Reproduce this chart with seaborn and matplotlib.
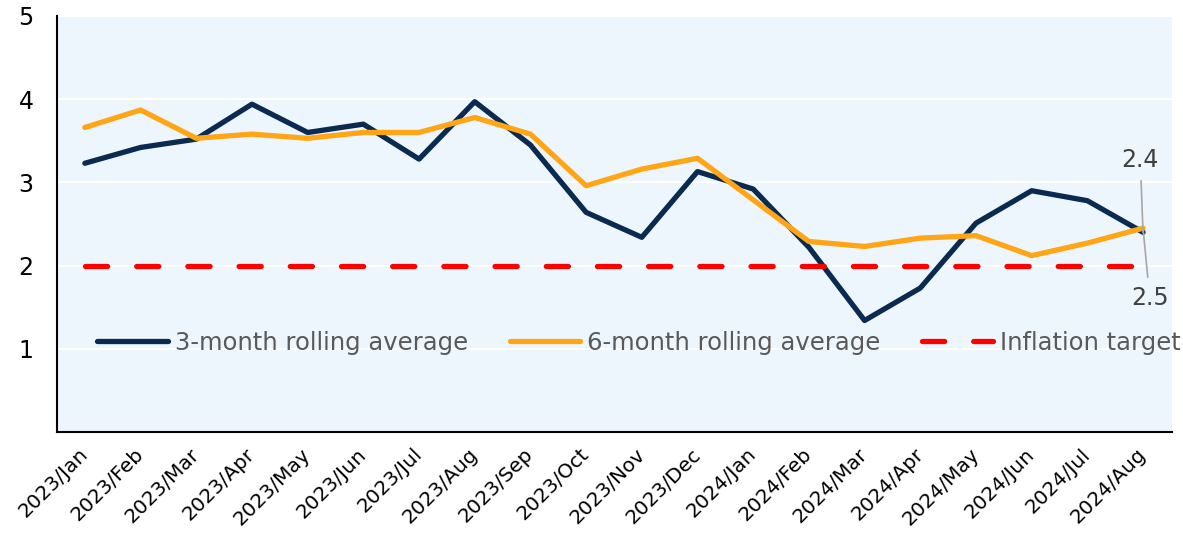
import pandas as pd
import matplotlib
matplotlib.use("Agg")
import matplotlib.pyplot as plt
import seaborn as sns

# values
months = ["2023/Jan", "2023/Feb", "2023/Mar", "2023/Apr", "2023/May", "2023/Jun",
          "2023/Jul", "2023/Aug", "2023/Sep", "2023/Oct", "2023/Nov", "2023/Dec",
          "2024/Jan", "2024/Feb", "2024/Mar", "2024/Apr", "2024/May", "2024/Jun",
          "2024/Jul", "2024/Aug"]
avg_3m = [3.23, 3.42, 3.52, 3.94, 3.60, 3.70, 3.28, 3.97, 3.45, 2.64,
          2.34, 3.13, 2.92, 2.22, 1.34, 1.73, 2.51, 2.90, 2.78, 2.40]
avg_6m = [3.66, 3.87, 3.53, 3.58, 3.53, 3.60, 3.60, 3.78, 3.58, 2.96,
          3.16, 3.29, 2.79, 2.29, 2.23, 2.33, 2.36, 2.12, 2.27, 2.45]
target = [2.0] * len(months)
yticks = [1, 2, 3, 4, 5]

df = pd.DataFrame({"month": months, "pos": range(len(months)),
                   "m3": avg_3m, "m6": avg_6m, "target": target})

sns.set_style("white")
plt.rcParams["font.family"] = ["DejaVu Sans"]

fig = plt.figure(figsize=(11.83, 5.44), dpi=100)
ax = fig.add_axes([0.0482, 0.2059, 0.9425, 0.7647])
ax.set_facecolor("#EEF6FD")

navy = "#0B2A4F"
orange = "#FFA516"

sns.lineplot(data=df, x="pos", y="m3", ax=ax, color=navy, linewidth=3.8,
             label="3-month rolling average", solid_capstyle="round")
sns.lineplot(data=df, x="pos", y="m6", ax=ax, color=orange, linewidth=3.8,
             label="6-month rolling average", solid_capstyle="round")
sns.lineplot(data=df, x="pos", y="target", ax=ax, color="#FF0000", linewidth=3.8,
             label="Inflation target", dashes=False)
ax.lines[-1].set_dashes([4.2, 5.5])
ax.lines[-1].set_dash_capstyle("round")

ax.set_ylim(0, 5)
ax.set_xlim(-0.5, 19.52)
ax.set_yticks(yticks)
ax.set_yticklabels([str(t) for t in yticks], fontsize=17, color="black")
ax.yaxis.grid(True, color="white", linewidth=1.5)
ax.set_axisbelow(True)
ax.set_xticks(df["pos"])
ax.set_xticklabels(months, rotation=45, ha="right", va="center",
                   rotation_mode="anchor", fontsize=14.5, color="black")
ax.tick_params(axis="y", length=0, pad=17)
ax.tick_params(axis="x", length=0, pad=14)
ax.set_xlabel("")
ax.set_ylabel("")

for s in ["top", "right"]:
    ax.spines[s].set_visible(False)
for s in ["left", "bottom"]:
    ax.spines[s].set_color("black")
    ax.spines[s].set_linewidth(1.5)

# end-point labels
last = len(months) - 1
ax.annotate("2.4", xy=(last, avg_3m[-1]), xytext=(18.95, 3.27), fontsize=17,
            color="#404040", ha="center", va="center",
            arrowprops=dict(arrowstyle="-", color="#A6A6A6", lw=1.2, shrinkB=0, shrinkA=4))
ax.annotate("2.5", xy=(last, avg_6m[-1]), xytext=(19.12, 1.61), fontsize=17,
            color="#404040", ha="center", va="center",
            arrowprops=dict(arrowstyle="-", color="#A6A6A6", lw=1.2, shrinkB=0, shrinkA=4))

leg = ax.legend(loc="center", bbox_to_anchor=(0.522, 0.214), ncol=3, frameon=False,
                fontsize=17.5, handlelength=2.9, columnspacing=1.7, handletextpad=0.3)
for t in leg.get_texts():
    t.set_color("#595959")

fig.savefig("out.png", dpi=100)
